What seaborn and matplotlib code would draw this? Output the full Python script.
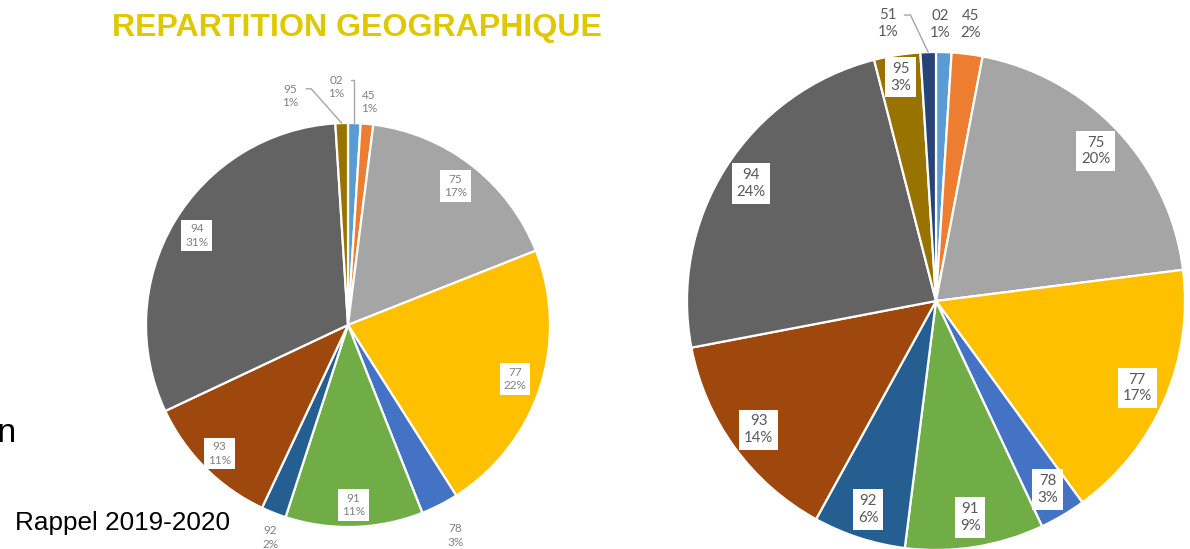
import numpy as np
import seaborn as sns
import matplotlib.pyplot as plt

sns.set_theme(style="white")
plt.rcParams['font.family'] = ['Lato', 'DejaVu Sans']

# data (clockwise from 12 o'clock)
left_depts = ['02', '45', '75', '77', '78', '91', '92', '93', '94', '95']
left_pct = [1, 1, 17, 22, 3, 11, 2, 11, 31, 1]

right_depts = ['02', '45', '75', '77', '78', '91', '92', '93', '94', '95', '51']
right_pct = [1, 2, 20, 17, 3, 9, 6, 14, 24, 3, 1]

dept_colors = {
    '02': '#5B9BD5', '45': '#ED7D31', '75': '#A5A5A5', '77': '#FFC000',
    '78': '#4472C4', '91': '#70AD47', '92': '#255E91', '93': '#9E480E',
    '94': '#636363', '95': '#997300', '51': '#264478',
}

W, H = 1190, 549


def pie_axes(fig, cx, cy, r):
    # place a square axes so that radius 1 == r pixels
    ax = fig.add_axes([(cx - r) / W, (H - cy - r) / H, 2 * r / W, 2 * r / H])
    return ax


def draw_pie(ax, depts, pct, inside, outside, fs, txt_color):
    pal = sns.color_palette([dept_colors[d] for d in depts])
    wedges, _ = ax.pie(pct, colors=pal, startangle=90, counterclock=False,
                       wedgeprops=dict(edgecolor='white', linewidth=1.6))
    ax.set_xlim(-1, 1)
    ax.set_ylim(-1, 1)
    ax.set_aspect('equal')
    ax.axis('off')
    for w, d, p in zip(wedges, depts, pct):
        mid = np.deg2rad((w.theta1 + w.theta2) / 2)
        lbl = f"{d}\n{p}%"
        if d in inside:
            rr = inside[d]
            ax.text(rr * np.cos(mid), rr * np.sin(mid), lbl, ha='center', va='center',
                    fontsize=fs, color=txt_color, linespacing=1.25, clip_on=False,
                    bbox=dict(boxstyle='square,pad=0.32', fc='white', ec='none'))
        else:
            # shift is in degrees, clockwise on screen
            rr, shift, lead = outside[d]
            ang = mid - np.deg2rad(shift)
            lx, ly = rr * np.cos(ang), rr * np.sin(ang)
            ax.text(lx, ly, lbl, ha='center', va='center', fontsize=fs,
                    color=txt_color, linespacing=1.25, clip_on=False)
            if lead is not None:
                ex, ey = np.cos(mid), np.sin(mid)
                sx = lx + lead
                kx = sx + 0.025
                if abs(kx - ex) < 0.04:
                    kx = ex
                ax.plot([sx, kx, ex], [ly + 0.035, ly + 0.035, ey], color='#A6A6A6',
                        lw=1.0, clip_on=False)


fig = plt.figure(figsize=(W / 100, H / 100), dpi=100)

# left pie : 2019-2020
ax1 = pie_axes(fig, 348, 325, 202)
left_inside = {'75': 0.87, '77': 0.87, '91': 0.89, '93': 0.9, '94': 0.87}
left_outside = {'02': (1.18, -4.7, 0.075), '45': (1.11, 0, None),
                '78': (1.17, 0, None), '92': (1.12, -1.5, None),
                '95': (1.17, -12.4, 0.08)}
draw_pie(ax1, left_depts, left_pct, left_inside, left_outside, 8.5, '#808080')

# right pie : current year
ax2 = pie_axes(fig, 936, 301, 249)
right_inside = {d: 0.88 for d in right_depts if d not in ('02', '45', '51')}
right_inside['95'] = 0.91
right_outside = {'02': (1.11, -1, None), '45': (1.12, 0, None),
                 '51': (1.13, -8, 0.065)}
draw_pie(ax2, right_depts, right_pct, right_inside, right_outside, 10.8, '#595959')

fig.text(357 / W, 1 - 28 / H, 'REPARTITION GEOGRAPHIQUE', ha='center', va='center',
         fontsize=23.1, fontweight='bold', color='#E0C800', family='Liberation Sans')
fig.text(15 / W, 1 - 523 / H, 'Rappel 2019-2020', ha='left', va='center',
         fontsize=18.8, color='black', family='Liberation Sans')
fig.text(17 / W, 1 - 433 / H, 'on', ha='right', va='center',
         fontsize=24, color='black', family='Liberation Sans')

fig.savefig('out.png', dpi=100)
